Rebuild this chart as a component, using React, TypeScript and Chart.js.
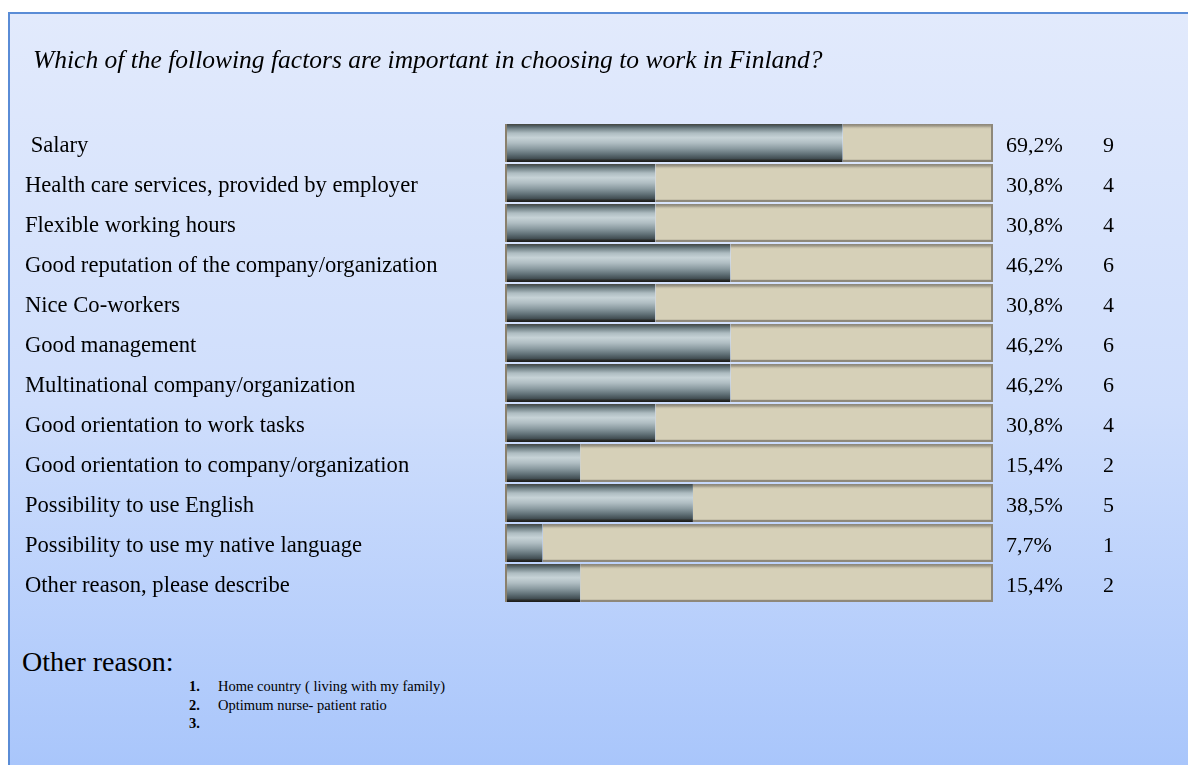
import React, { useEffect, useRef } from "react";
import { Chart, registerables } from "chart.js";

Chart.register(...registerables);

const categories = [
  " Salary",
  "Health care services, provided by employer",
  "Flexible working hours",
  "Good reputation of the company/organization",
  "Nice Co-workers",
  "Good management",
  "Multinational company/organization",
  "Good orientation to work tasks",
  "Good orientation to company/organization",
  "Possibility to use English",
  "Possibility to use my native language",
  "Other reason, please describe",
];
const percentValues = [69.2, 30.8, 30.8, 46.2, 30.8, 46.2, 46.2, 30.8, 15.4, 38.5, 7.7, 15.4];
const counts = [9, 4, 4, 6, 4, 6, 6, 4, 2, 5, 1, 2];
const remainder = percentValues.map((v) => 100 - v);

const titleText = "Which of the following factors are important in choosing to work in Finland?";
const otherHeading = "Other reason:";
const otherItems = ["Home country ( living with my family)", "Optimum nurse- patient ratio", ""];

const SERIF = '"Liberation Serif", "Times New Roman", serif';
const BAR_H = 38;

function barGradient(stops: [number, string][], fallback: string) {
  return (c: any) => {
    const chart = c.chart;
    const ys = chart.scales && chart.scales.y;
    if (!ys || c.dataIndex === undefined) return fallback;
    const cy = ys.getPixelForValue(c.dataIndex);
    if (!isFinite(cy)) return fallback;
    const g = chart.ctx.createLinearGradient(0, cy - BAR_H / 2, 0, cy + BAR_H / 2);
    stops.forEach(([o, col]) => g.addColorStop(o, col));
    return g;
  };
}

const grayStops: [number, string][] = [
  [0, "#45463f"],
  [0.05, "#4f5c60"],
  [0.12, "#748489"],
  [0.24, "#aebcc1"],
  [0.36, "#c7d3d7"],
  [0.5, "#afbdc2"],
  [0.65, "#8a9aa0"],
  [0.8, "#5f6f75"],
  [0.91, "#424e53"],
  [0.95, "#2a2c2a"],
  [1, "#1a1a18"],
];
const beigeStops: [number, string][] = [
  [0, "#8a8478"],
  [0.05, "#9f9987"],
  [0.09, "#c2bca7"],
  [0.13, "#d6d0b8"],
  [0.93, "#d6d0b8"],
  [0.95, "#8e887a"],
  [1, "#8e887a"],
];

const TEXT_DY = 3;

const textPlugin = {
  id: "rowText",
  afterDatasetsDraw(chart: any) {
    const ys = chart.scales.y;
    const area = chart.chartArea;
    const ctx = chart.ctx;
    ctx.save();
    ctx.fillStyle = "#000";
    ctx.textBaseline = "middle";
    ctx.textAlign = "left";
    ctx.font = `22.6px ${SERIF}`;
    categories.forEach((label, i) => {
      const y = ys.getPixelForValue(i) + TEXT_DY;
      ctx.fillText(label, 25, y);
    });
    ctx.font = `22px ${SERIF}`;
    percentValues.forEach((v, i) => {
      const y = ys.getPixelForValue(i) + TEXT_DY;
      ctx.fillText(v.toFixed(1).replace(".", ",") + "%", area.right + 13, y);
      ctx.fillText(String(counts[i]), area.right + 110, y);
    });
    ctx.restore();
  },
};

export default function App() {
  const ref = useRef<HTMLCanvasElement | null>(null);

  useEffect(() => {
    if (!ref.current) return;
    const chart = new Chart(ref.current, {
      type: "bar",
      data: {
        labels: categories,
        datasets: [
          {
            label: "Share",
            data: percentValues,
            backgroundColor: barGradient(grayStops, "#9aa8ad"),
            borderColor: "#8a806c",
            borderWidth: { left: 2, top: 0, right: 0, bottom: 0 },
            borderSkipped: false,
            barPercentage: 0.95,
            categoryPercentage: 1,
          },
          {
            label: "Rest",
            data: remainder,
            backgroundColor: barGradient(beigeStops, "#d6d0b8"),
            borderColor: "#8e887a",
            borderWidth: { left: 0, top: 0, right: 2, bottom: 0 },
            borderSkipped: false,
            barPercentage: 0.95,
            categoryPercentage: 1,
          },
        ],
      },
      options: {
        indexAxis: "y",
        responsive: false,
        animation: false,
        devicePixelRatio: 1,
        layout: { padding: { left: 505, right: 195, top: 123, bottom: 37 } },
        plugins: {
          legend: { display: false },
          tooltip: { enabled: false },
          title: { display: false },
        },
        scales: {
          x: { stacked: true, min: 0, max: 100, display: false },
          y: { stacked: true, display: false },
        },
      },
      plugins: [textPlugin],
    } as any);
    return () => chart.destroy();
  }, []);

  return (
    <div>
      <div
        style={{
          position: "fixed",
          left: 8,
          top: 12,
          width: 1200,
          height: 780,
          borderLeft: "2px solid #5a8cd6",
          borderTop: "2px solid #5a8cd6",
          background: "linear-gradient(to bottom, #e2eafc 0%, #cfdefc 50%, #a6c4fb 100%)",
        }}
      />
      <canvas
        ref={ref}
        width={1188}
        height={640}
        style={{ position: "fixed", left: 0, top: 0, width: 1188, height: 640 }}
      />
      <div
        style={{
          position: "fixed",
          left: 33,
          top: 47,
          fontFamily: SERIF,
          fontStyle: "italic",
          fontSize: 25.5,
          lineHeight: "25px",
          color: "#000",
          whiteSpace: "nowrap",
        }}
      >
        {titleText}
      </div>
      <div
        style={{
          position: "fixed",
          left: 22,
          top: 648,
          fontFamily: SERIF,
          fontSize: 28,
          lineHeight: "27px",
          color: "#000",
          whiteSpace: "nowrap",
        }}
      >
        {otherHeading}
      </div>
      <div
        style={{
          position: "fixed",
          left: 189,
          top: 677,
          fontFamily: SERIF,
          fontSize: 14.5,
          lineHeight: "18.5px",
          color: "#000",
        }}
      >
        {otherItems.map((t, i) => (
          <div key={i} style={{ display: "flex", whiteSpace: "nowrap" }}>
            <span style={{ fontWeight: "bold", width: 29, display: "inline-block" }}>{i + 1}.</span>
            <span>{t}</span>
          </div>
        ))}
      </div>
    </div>
  );
}
